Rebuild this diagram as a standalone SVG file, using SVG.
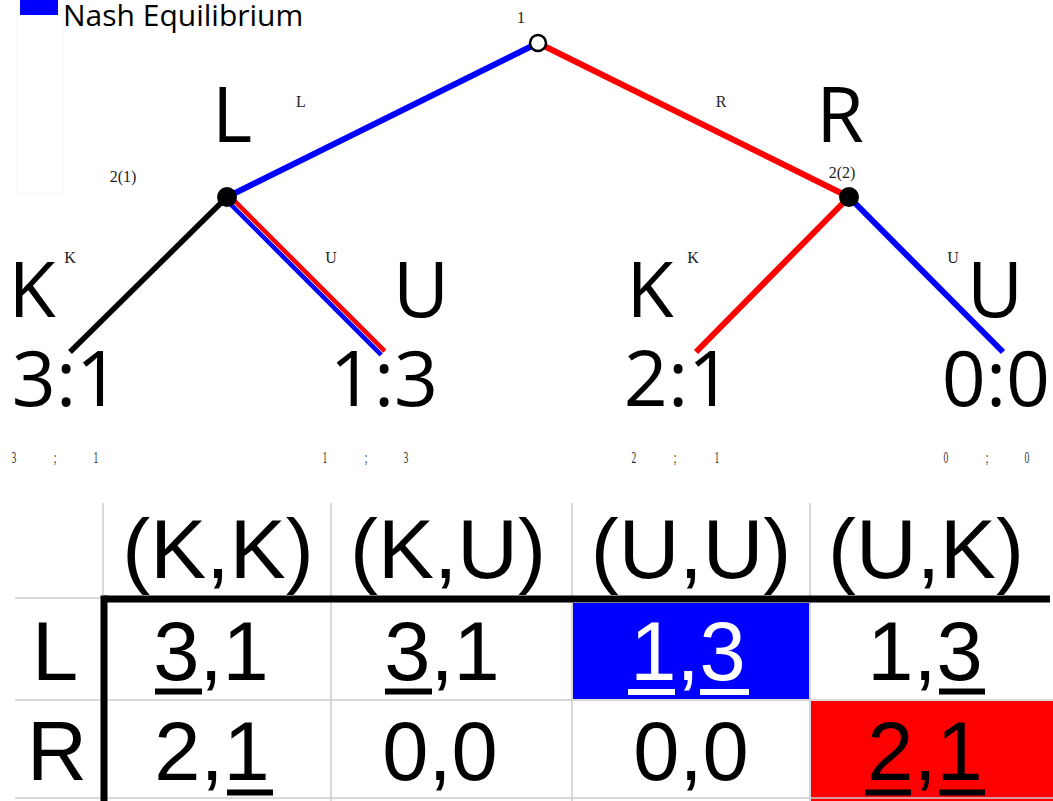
<svg xmlns="http://www.w3.org/2000/svg" width="1053" height="801" viewBox="0 0 1053 801">
<style>
.big{font-family:"Open Sans","Noto Sans",sans-serif;font-size:77px;fill:#000;text-anchor:middle}
.sm{font-family:"Liberation Serif",serif;font-size:16px;fill:#222;text-anchor:middle}
.tb{font-family:"Liberation Sans",Arial,sans-serif;fill:#000;text-anchor:middle}
.hd{font-size:84px}
.rw{font-size:83px}
.grid{stroke:#cccccc;stroke-width:1.5;fill:none}
.ul{stroke-width:6}
</style>
<rect width="1053" height="801" fill="#fff"/>
<g id="legend">
<rect x="17" y="-5" width="46" height="198" fill="none" stroke="#f7f7f7" stroke-width="1"/>
<rect x="20" y="0" width="38" height="15" fill="#0000ff"/>
<text x="63" y="25.5" font-family="'Open Sans','Noto Sans',sans-serif" font-size="30" fill="#000">Nash Equilibrium</text>
</g>
<g id="connectors" stroke-linecap="butt" fill="none">
<line x1="538" y1="43" x2="227" y2="197" stroke="#0000ff" stroke-width="6"/>
<line x1="538" y1="43" x2="849" y2="197" stroke="#ff0000" stroke-width="6"/>
<line x1="227" y1="197" x2="70" y2="352" stroke="#000" stroke-width="5.5"/>
<line x1="228.8" y1="195.2" x2="384.8" y2="351.2" stroke="#ff0000" stroke-width="4.5"/>
<line x1="225.2" y1="198.8" x2="381.2" y2="354.8" stroke="#0000ff" stroke-width="4.5"/>
<line x1="849" y1="197" x2="696" y2="352" stroke="#ff0000" stroke-width="6"/>
<line x1="849" y1="197" x2="1003" y2="352" stroke="#0000ff" stroke-width="6"/>
</g>
<g id="edge-labels" class="sm">
<text x="301" y="107">L</text>
<text x="721" y="107">R</text>
<text x="70" y="263">K</text>
<text x="331" y="263">U</text>
<text x="693" y="263">K</text>
<text x="953" y="263">U</text>
</g>
<g id="node-root">
<circle cx="538" cy="43" r="8" fill="#fff" stroke="#000" stroke-width="2.5"/>
<text class="sm" x="521" y="23">1</text>
</g>
<g id="node-L">
<circle cx="227" cy="197" r="10" fill="#000"/>
<text class="sm" x="123" y="182">2(1)</text>
<text class="big" x="232" y="142">L</text>
</g>
<g id="node-R">
<circle cx="849" cy="197" r="10" fill="#000"/>
<text class="sm" x="842" y="178">2(2)</text>
<text class="big" x="840" y="142">R</text>
</g>
<g id="leaf-LK">
<text class="big" x="32" y="317">K</text>
<text class="big" x="66" y="406">3:1</text>
</g>
<g id="leaf-LU">
<text class="big" x="421" y="317">U</text>
<text class="big" x="384" y="406">1:3</text>
</g>
<g id="leaf-RK">
<text class="big" x="650" y="317">K</text>
<text class="big" x="678" y="406">2:1</text>
</g>
<g id="leaf-RU">
<text class="big" x="995" y="317">U</text>
<text class="big" x="996" y="406">0:0</text>
</g>
<g id="payoff-small" transform="scale(0.6 1)" class="sm" style="fill:#333">
<text x="23.3" y="463">3</text><text x="91.7" y="463">;</text><text x="160" y="463">1</text>
<text x="541.7" y="463">1</text><text x="610" y="463">;</text><text x="676.7" y="463">3</text>
<text x="1056.7" y="463">2</text><text x="1125" y="463">;</text><text x="1195" y="463">1</text>
<text x="1576.7" y="463">0</text><text x="1645" y="463">;</text><text x="1711.7" y="463">0</text>
</g>
<g id="table">
<rect x="573" y="603" width="236" height="96" fill="#0000ff"/>
<rect x="811" y="701" width="242" height="100" fill="#ff0000"/>
<g class="grid">
<line x1="103" y1="503" x2="103" y2="598"/>
<line x1="331" y1="503" x2="331" y2="801"/>
<line x1="572" y1="503" x2="572" y2="801"/>
<line x1="810" y1="503" x2="810" y2="801"/>
<line x1="15" y1="598" x2="103" y2="598"/>
<line x1="15" y1="700" x2="1053" y2="700"/>
<line x1="15" y1="798" x2="1053" y2="798"/>
</g>
<g stroke="#000" stroke-width="7">
<line x1="104" y1="599" x2="1050" y2="599"/>
<line x1="104" y1="595.5" x2="104" y2="801"/>
</g>
<g class="tb hd">
<text x="218" y="578">(K,K)</text>
<text x="448" y="578">(K,U)</text>
<text x="691" y="578">(U,U)</text>
<text x="926" y="578">(U,K)</text>
</g>
<g class="tb rw">
<text x="55" y="680">L</text>
<text x="57" y="780">R</text>
<text x="211" y="680">3,1</text>
<text x="442" y="680">3,1</text>
<text x="688" y="680" style="fill:#fff">1,3</text>
<text x="925" y="680">1,3</text>
<text x="212" y="780">2,1</text>
<text x="440" y="780">0,0</text>
<text x="691" y="780">0,0</text>
<text x="925" y="780">2,1</text>
</g>
<g class="ul" stroke="#000">
<line x1="155" y1="691.5" x2="202" y2="691.5"/>
<line x1="385" y1="691.5" x2="432" y2="691.5"/>
<line x1="939" y1="691.5" x2="985" y2="691.5"/>
<line x1="227" y1="792.5" x2="273" y2="792.5"/>
<line x1="865" y1="792.5" x2="911" y2="792.5"/>
<line x1="939" y1="792.5" x2="985" y2="792.5"/>
</g>
<g class="ul" stroke="#fff">
<line x1="628" y1="692" x2="675" y2="692"/>
<line x1="700" y1="692" x2="749" y2="692"/>
</g>
</g>
</svg>
